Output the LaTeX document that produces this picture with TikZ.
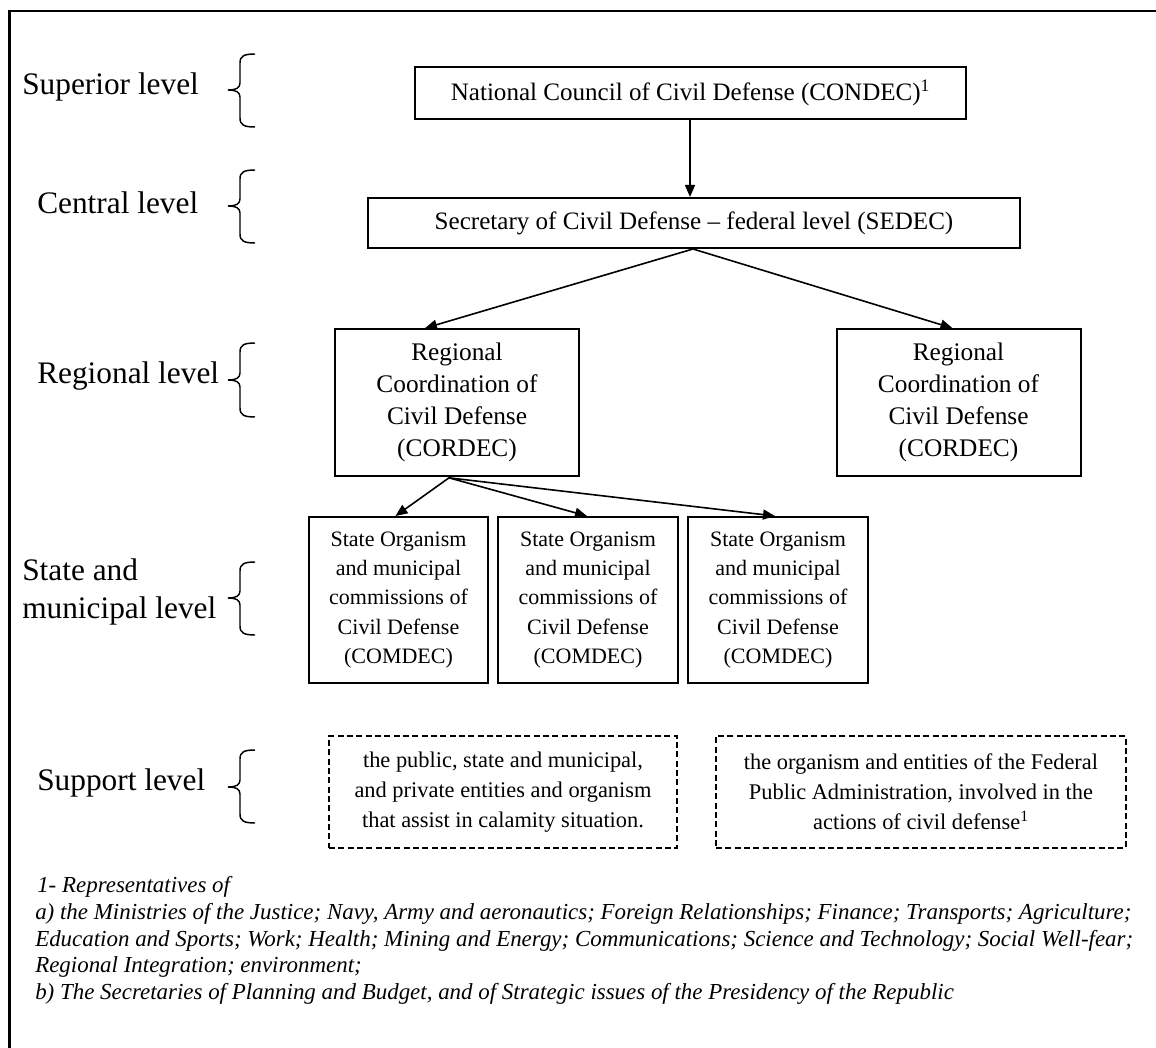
\documentclass[tikz,border=0pt]{standalone}
\usepackage{fontspec}
\setmainfont{Liberation Serif}
\usetikzlibrary{arrows.meta,calc}
\begin{document}
\begin{tikzpicture}[x=0.75pt,y=-0.75pt,
  lvl/.style={anchor=west,inner sep=0pt,font=\fontsize{23.5}{29}\selectfont,align=left},
  bigbox/.style={draw,line width=1.5pt,inner sep=0pt,align=center,font=\fontsize{18.8}{24}\selectfont},
  regbox/.style={draw,line width=1.5pt,inner sep=0pt,align=center,minimum width=183pt,minimum height=110pt,font=\fontsize{19}{24}\selectfont},
  combox/.style={draw,line width=1.5pt,inner sep=0pt,align=center,minimum width=134.5pt,minimum height=124.5pt,font=\fontsize{16.5}{21.8}\selectfont},
  supbox/.style={draw,line width=1.4pt,dash pattern=on 4.5pt off 2.5pt,inner sep=0pt,align=center,minimum height=84pt,font=\fontsize{16.8}{22.5}\selectfont},
  arr/.style={line width=1.2pt,-{Triangle[length=9pt,width=7.5pt]}},
  brc/.style={line width=1.1pt},
  note/.style={anchor=west,inner sep=0pt,font=\fontsize{17.2}{20}\selectfont\itshape}]
\useasboundingbox (0,0) rectangle (1156,1048);
\fill[white] (0,0) rectangle (1156,1048);
% frame
\draw[line width=1.9pt] (9.5,1048) -- (9.5,11) -- (1156,11);

% level labels
\node[lvl] (lsup) at (22,87) {Superior level};
\node[lvl] (lcen) at (37,203) {Central level};
\node[lvl] (lreg) at (37,376) {Regional level};
\node[lvl] (lsta) at (22,592) {State and\\municipal level};
\node[lvl] (lspt) at (37,783) {Support level};

% braces
\foreach \yt/\ym/\yb in {54/90/127, 170/206/243, 343/380/417, 562/598/635, 750/787/823}{
  \draw[brc] (255,\yt) .. controls (244,\yt) and (240,\yt+2) .. (240,\yt+9) -- (240,\ym-7)
    .. controls (240,\ym-2) and (236,\ym) .. (228,\ym)
    .. controls (236,\ym) and (240,\ym+2) .. (240,\ym+7) -- (240,\yb-9)
    .. controls (240,\yb-2) and (244,\yb) .. (255,\yb);
}

% boxes
\node[bigbox,minimum width=413pt,minimum height=39pt] (condec) at (690.5,93) {National Council of Civil Defense (CONDEC)\textsuperscript{1}};
\node[bigbox,minimum width=489pt,minimum height=37.5pt] (sedec) at (694,223) {Secretary of Civil Defense -- federal level (SEDEC)};
\node[regbox] (regL) at (457,402.5) {Regional\\Coordination of\\Civil Defense\\(CORDEC)};
\node[regbox] (regR) at (958.5,402.5) {Regional\\Coordination of\\Civil Defense\\(CORDEC)};
\node[combox] (comA) at (398.5,600) {State Organism\\and municipal\\commissions of\\Civil Defense\\(COMDEC)};
\node[combox] (comB) at (588,600) {State Organism\\and municipal\\commissions of\\Civil Defense\\(COMDEC)};
\node[combox] (comC) at (778,600) {State Organism\\and municipal\\commissions of\\Civil Defense\\(COMDEC)};
\node[supbox,minimum width=261pt] (supA) at (503,792) {the public, state and municipal,\\and private entities and organism\\that assist in calamity situation.};
\node[supbox,minimum width=307.5pt] (supB) at (921,792) {the organism and entities of the Federal\\Public Administration, involved in the\\actions of civil defense\textsuperscript{1}};

% connectors
\draw[arr] (condec.south -| 690,0) -- (sedec.north -| 690,0);
\coordinate (sedecOut) at ($(sedec.south)+(-1,0)$);
\draw[arr] (sedecOut) -- ($(regL.north)+(-32,0)$);
\draw[arr] (sedecOut) -- ($(regR.north)+(-6,0)$);
\coordinate (regOut) at ($(regL.south)+(-8,1)$);
\draw[arr] (regOut) -- ($(comA.north)+(-3,0)$);
\draw[arr] (regOut) -- ($(comB.north)+(-1,0)$);
\draw[arr] (regOut) -- ($(comC.north)+(-3,0)$);

% footnote
\node[note] (n1) at (37,887) {1- Representatives of};
\node[note] (n2) at (35,914) {a) the Ministries of the Justice; Navy, Army and aeronautics; Foreign Relationships; Finance; Transports; Agriculture;};
\node[note] (n3) at (35,941) {Education and Sports; Work; Health; Mining and Energy; Communications; Science and Technology; Social Well-fear;};
\node[note] (n4) at (35,967) {Regional Integration; environment;};
\node[note] (n5) at (35,994) {b) The Secretaries of Planning and Budget, and of Strategic issues of the Presidency of the Republic};
\end{tikzpicture}
\end{document}
